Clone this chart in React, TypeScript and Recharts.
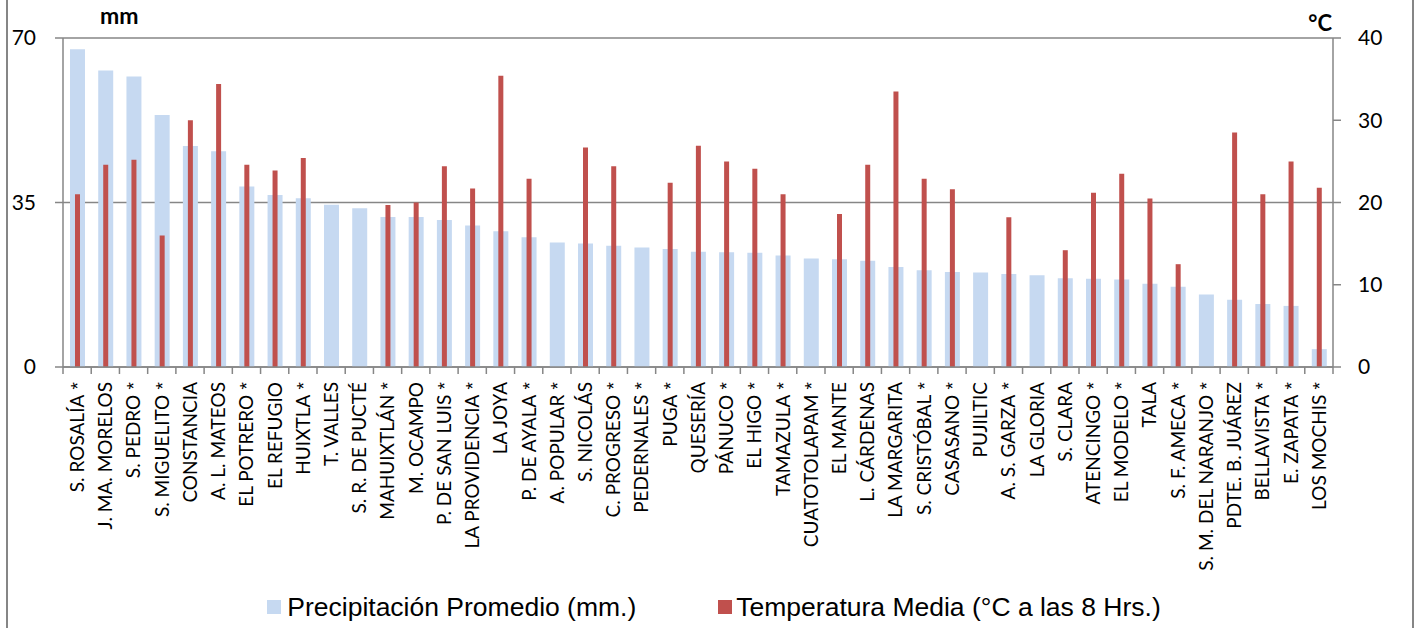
import React from 'react';
import { BarChart, Bar, XAxis, YAxis, CartesianGrid, Legend } from 'recharts';

const stations = [
  'S. ROSALÍA *', 'J. MA. MORELOS', 'S. PEDRO *', 'S. MIGUELITO *', 'CONSTANCIA',
  'A. L. MATEOS', 'EL POTRERO *', 'EL REFUGIO', 'HUIXTLA *', 'T. VALLES',
  'S. R. DE PUCTÉ', 'MAHUIXTLÁN *', 'M. OCAMPO', 'P. DE SAN LUIS *', 'LA PROVIDENCIA *',
  'LA JOYA', 'P. DE AYALA *', 'A. POPULAR *', 'S. NICOLÁS', 'C. PROGRESO *',
  'PEDERNALES *', 'PUGA *', 'QUESERÍA', 'PÁNUCO *', 'EL HIGO *',
  'TAMAZULA *', 'CUATOTOLAPAM *', 'EL MANTE', 'L. CÁRDENAS', 'LA MARGARITA',
  'S. CRISTÓBAL *', 'CASASANO *', 'PUJILTIC', 'A. S. GARZA *', 'LA GLORIA',
  'S. CLARA', 'ATENCINGO *', 'EL MODELO *', 'TALA', 'S. F. AMECA *',
  'S. M. DEL NARANJO *', 'PDTE. B. JUÁREZ', 'BELLAVISTA *', 'E. ZAPATA *', 'LOS MOCHIS *',
];

// mm
const precipitation = [
  67.6, 63.1, 61.8, 53.6, 47.0, 45.9, 38.4, 36.6, 35.9, 34.5,
  33.8, 31.9, 31.9, 31.3, 30.1, 28.9, 27.6, 26.5, 26.3, 25.8,
  25.4, 25.1, 24.5, 24.4, 24.3, 23.7, 23.1, 22.9, 22.6, 21.3,
  20.6, 20.2, 20.1, 19.8, 19.5, 18.9, 18.8, 18.6, 17.7, 17.1,
  15.4, 14.3, 13.4, 13.0, 3.8,
];

// °C a las 8 hrs (null = sin dato)
const temperature = [
  21.0, 24.6, 25.2, 16.0, 30.0, 34.4, 24.6, 23.9, 25.4, null,
  null, 19.7, 20.0, 24.4, 21.7, 35.4, 22.9, null, 26.7, 24.4,
  null, 22.4, 26.9, 25.0, 24.1, 21.0, null, 18.6, 24.6, 33.5,
  22.9, 21.6, null, 18.2, null, 14.2, 21.2, 23.5, 20.5, 12.5,
  null, 28.5, 21.0, 25.0, 21.8,
];

const mmTicks = [0, 35, 70];
const tempTicks = [0, 10, 20, 30, 40];

const data = stations.map((name, i) => ({
  name,
  precip: precipitation[i],
  temp: temperature[i],
}));

const W = 1418;
const H = 628;
const LEFT_W = 63;
const RIGHT_W = 85;
const BAND = (W - LEFT_W - RIGHT_W) / stations.length;
const GRAY = '#868686';
const BLUE = '#C6D9F1';
const RED = '#C0504D';
const FONT = 'Lato, "Liberation Sans", "DejaVu Sans", sans-serif';
const LEGEND_FONT = '"Liberation Sans", Arial, sans-serif';

const StationTick = (props: any) => {
  const { x, y, payload, index } = props;
  const label: string = payload.value;
  const starred = label.endsWith(' *');
  const base = starred ? label.slice(0, -2) : label;
  return (
    <g>
      <line x1={x - BAND / 2} y1={y} x2={x - BAND / 2} y2={y + 7} stroke={GRAY} strokeWidth={1.5} />
      {index === stations.length - 1 && (
        <line x1={x + BAND / 2} y1={y} x2={x + BAND / 2} y2={y + 7} stroke={GRAY} strokeWidth={1.5} />
      )}
      <text
        transform={`translate(${x},${y + 15}) rotate(-90)`}
        textAnchor="end"
        dy="0.36em"
        fontSize={19}
        fontFamily={FONT}
        fill="#000"
      >
        {base}
        {starred && (
          <tspan fontFamily='"Liberation Sans", sans-serif' fill="#000">
            {'\u00a0*'}
          </tspan>
        )}
      </text>
    </g>
  );
};

const ChartLegend = () => (
  <div
    style={{
      display: 'flex',
      justifyContent: 'center',
      alignItems: 'center',
      height: 46,
      paddingTop: 2,
      paddingLeft: 10,
      fontFamily: LEGEND_FONT,
      fontSize: 26.5,
      color: '#000',
      whiteSpace: 'nowrap',
    }}
  >
    <span style={{ display: 'flex', alignItems: 'center', marginRight: 82 }}>
      <span style={{ width: 14, height: 14, background: BLUE, marginRight: 6 }} />
      Precipitación Promedio (mm.)
    </span>
    <span style={{ display: 'flex', alignItems: 'center' }}>
      <span style={{ width: 14, height: 14, background: RED, marginRight: 4 }} />
      Temperatura Media (°C a las 8 Hrs.)
    </span>
  </div>
);

export default function App() {
  return (
    <div
      style={{
        position: 'absolute',
        left: 0,
        top: 0,
        width: W,
        height: H,
        background: '#fff',
        fontFamily: FONT,
      }}
    >
      <div
        style={{
          position: 'absolute',
          left: 6,
          top: 0,
          width: 1404,
          height: H,
          borderLeft: `2px solid ${GRAY}`,
          borderRight: `2px solid ${GRAY}`,
        }}
      />
      <BarChart width={W} height={H} data={data} margin={{ top: 38, right: 0, bottom: 0, left: 0 }}>
        <CartesianGrid vertical={false} yAxisId="mm" xAxisId="p" stroke={GRAY} strokeWidth={1.5} />
        <XAxis
          xAxisId="p"
          dataKey="name"
          height={215}
          interval={0}
          tickLine={false}
          tickSize={0}
          tickMargin={0}
          axisLine={{ stroke: GRAY, strokeWidth: 1.5 }}
          tick={<StationTick />}
        />
        <XAxis xAxisId="t" dataKey="name" hide />
        <YAxis
          yAxisId="mm"
          domain={[0, 70]}
          ticks={mmTicks}
          width={LEFT_W}
          tickSize={8}
          tickMargin={19}
          axisLine={{ stroke: GRAY, strokeWidth: 1.5 }}
          tickLine={{ stroke: GRAY, strokeWidth: 1.5 }}
          tick={{ fill: '#000', fontSize: 21, fontFamily: FONT }}
          label={({ viewBox }: any) => (
            <text x={viewBox.x + viewBox.width + 37} y={viewBox.y - 14} fontSize={23} fontWeight="bold" fontFamily={FONT} fill="#000">
              mm
            </text>
          )}
        />
        <YAxis
          yAxisId="c"
          orientation="right"
          domain={[0, 40]}
          ticks={tempTicks}
          width={RIGHT_W}
          tickSize={8}
          tickMargin={17}
          axisLine={{ stroke: GRAY, strokeWidth: 1.5 }}
          tickLine={{ stroke: GRAY, strokeWidth: 1.5 }}
          tick={{ fill: '#000', fontSize: 21, fontFamily: FONT }}
          label={({ viewBox }: any) => (
            <text x={viewBox.x - 1} y={viewBox.y - 7} textAnchor="end" fontSize={22} fontWeight="bold" fontFamily={FONT} fill="#000">
              °C
            </text>
          )}
        />
        <Legend verticalAlign="bottom" height={46} content={<ChartLegend />} />
        <Bar
          xAxisId="p"
          yAxisId="mm"
          dataKey="precip"
          name="Precipitación Promedio (mm.)"
          fill={BLUE}
          barSize={15}
          isAnimationActive={false}
        />
        <Bar
          xAxisId="t"
          yAxisId="c"
          dataKey="temp"
          name="Temperatura Media (°C a las 8 Hrs.)"
          fill={RED}
          barSize={5}
          isAnimationActive={false}
        />
      </BarChart>
    </div>
  );
}
